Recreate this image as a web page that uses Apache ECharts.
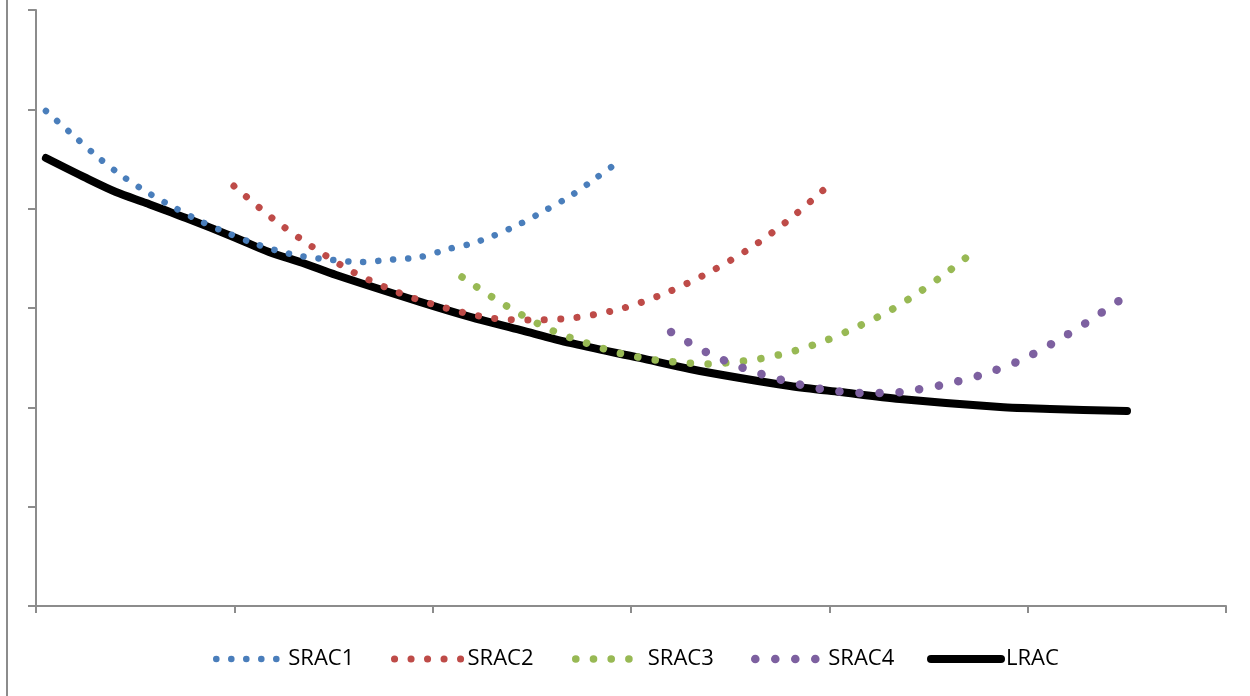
<!DOCTYPE html>
<html>
<head>
<meta charset="utf-8">
<script src="https://cdn.jsdelivr.net/npm/echarts@6/dist/echarts.min.js"></script>
<style>html,body{margin:0;padding:0;background:#fff}#c{width:1250px;height:696px}</style>
</head>
<body>
<div id="c"></div>
<script>
const seriesNames = ['SRAC1', 'SRAC2', 'SRAC3', 'SRAC4', 'LRAC'];
const srac1 = [[0.50,49.83],[1.97,47.22],[3.23,45.0],[4.49,43.09],[5.75,41.48],[7.01,40.07],[8.27,38.76],[9.53,37.65],[10.79,36.65],[12.05,35.84],[13.31,35.24],[14.82,34.87],[16.39,34.63],[17.90,34.87],[19.36,35.13],[20.87,35.98],[21.88,36.44],[23.04,37.25],[24.40,38.46],[25.71,39.87],[27.03,41.38],[28.24,43.09],[29.50,44.90]];
const srac2 = [[9.98,42.28],[11.90,39.06],[13.87,36.24],[15.98,33.63],[18.20,31.61],[20.47,30.10],[22.94,28.99],[24.96,28.79],[27.03,28.99],[29.45,29.90],[31.76,31.51],[33.98,33.63],[36.10,36.14],[38.07,39.06],[39.93,42.28]];
const srac3 = [[21.48,33.12],[22.99,31.11],[24.50,29.30],[26.07,27.69],[27.73,26.48],[29.40,25.47],[31.21,24.77],[32.92,24.46],[33.83,24.36],[34.69,24.46],[36.45,24.87],[38.22,25.67],[39.88,26.78],[41.50,28.19],[43.11,29.80],[44.62,31.71],[46.03,33.73],[47.45,35.94]];
const srac4 = [[32.02,27.58],[33.78,25.57],[35.65,23.96],[37.61,22.75],[39.58,21.85],[41.60,21.45],[42.66,21.45],[43.66,21.55],[45.68,22.25],[47.65,23.26],[49.56,24.67],[51.38,26.58],[53.09,28.69],[54.81,31.01]];
const lrac = [[0.50,45.10],[2.52,43.09],[4.03,41.68],[5.55,40.57],[7.56,39.06],[10.08,37.05],[11.75,35.64],[13.46,34.53],[15.13,33.32],[19.36,30.61],[21.88,29.10],[24.40,27.79],[26.92,26.48],[30.45,24.97],[32.98,23.86],[35.50,22.95],[38.02,22.15],[40.54,21.54],[43.56,20.84],[48.61,20.03],[51.13,19.83],[55.01,19.63]];

const colors = ['#4A7EBB', '#BE4B48', '#98B954', '#7D60A0', '#000000'];
const widths = [6.5, 7, 7.5, 8.5, 8];
const gaps = [15, 16.5, 17.7, 20, 0];
const allData = [srac1, srac2, srac3, srac4, lrac];
const legendLeft = [213, 391, 572, 751, 927];
const legendItemWidth = [67, 68, 67, 68, 70];

function lineType(i) { return gaps[i] ? [0.1, gaps[i] - 0.1] : 'solid'; }

const axisColor = '#8c8c8c';
const option = {
  animation: false,
  backgroundColor: '#fff',
  grid: { left: 36, right: 24, top: 10, bottom: 90, containLabel: false },
  xAxis: {
    type: 'value', min: 0, max: 60, interval: 10,
    axisLine: { show: true, onZero: false, lineStyle: { color: axisColor, width: 2 } },
    axisTick: { show: true, length: 7, lineStyle: { color: axisColor, width: 2 } },
    axisLabel: { show: false },
    splitLine: { show: false }
  },
  yAxis: {
    type: 'value', min: 0, max: 60, interval: 10,
    axisLine: { show: true, onZero: false, lineStyle: { color: axisColor, width: 2 } },
    axisTick: { show: true, length: 8, lineStyle: { color: axisColor, width: 2 } },
    axisLabel: { show: false },
    splitLine: { show: false }
  },
  legend: seriesNames.map((n, i) => ({
    data: [n],
    left: legendLeft[i],
    top: 648,
    padding: 0,
    itemWidth: legendItemWidth[i],
    itemHeight: 14,
    itemStyle: { color: 'rgba(0,0,0,0)', borderWidth: 0, opacity: 0 },
    textStyle: { fontFamily: 'Open Sans', fontSize: 22, color: '#000' },
    lineStyle: { width: widths[i], type: lineType(i), cap: 'round', color: colors[i], opacity: 1 }
  })),
  graphic: [{
    type: 'line', shape: { x1: 7, y1: 0, x2: 7, y2: 696 },
    style: { stroke: axisColor, lineWidth: 2 }
  }],
  series: seriesNames.map((n, i) => ({
    name: n,
    type: 'line',
    data: allData[i],
    smooth: 0.3,
    symbol: 'none',
    color: colors[i],
    lineStyle: { color: colors[i], width: widths[i], type: lineType(i), cap: 'round', join: 'round' },
    z: i === 4 ? 1 : 2
  }))
};
const chart = echarts.init(document.getElementById('c'), null, { renderer: 'canvas' });
chart.setOption(option);
</script>
</body>
</html>
